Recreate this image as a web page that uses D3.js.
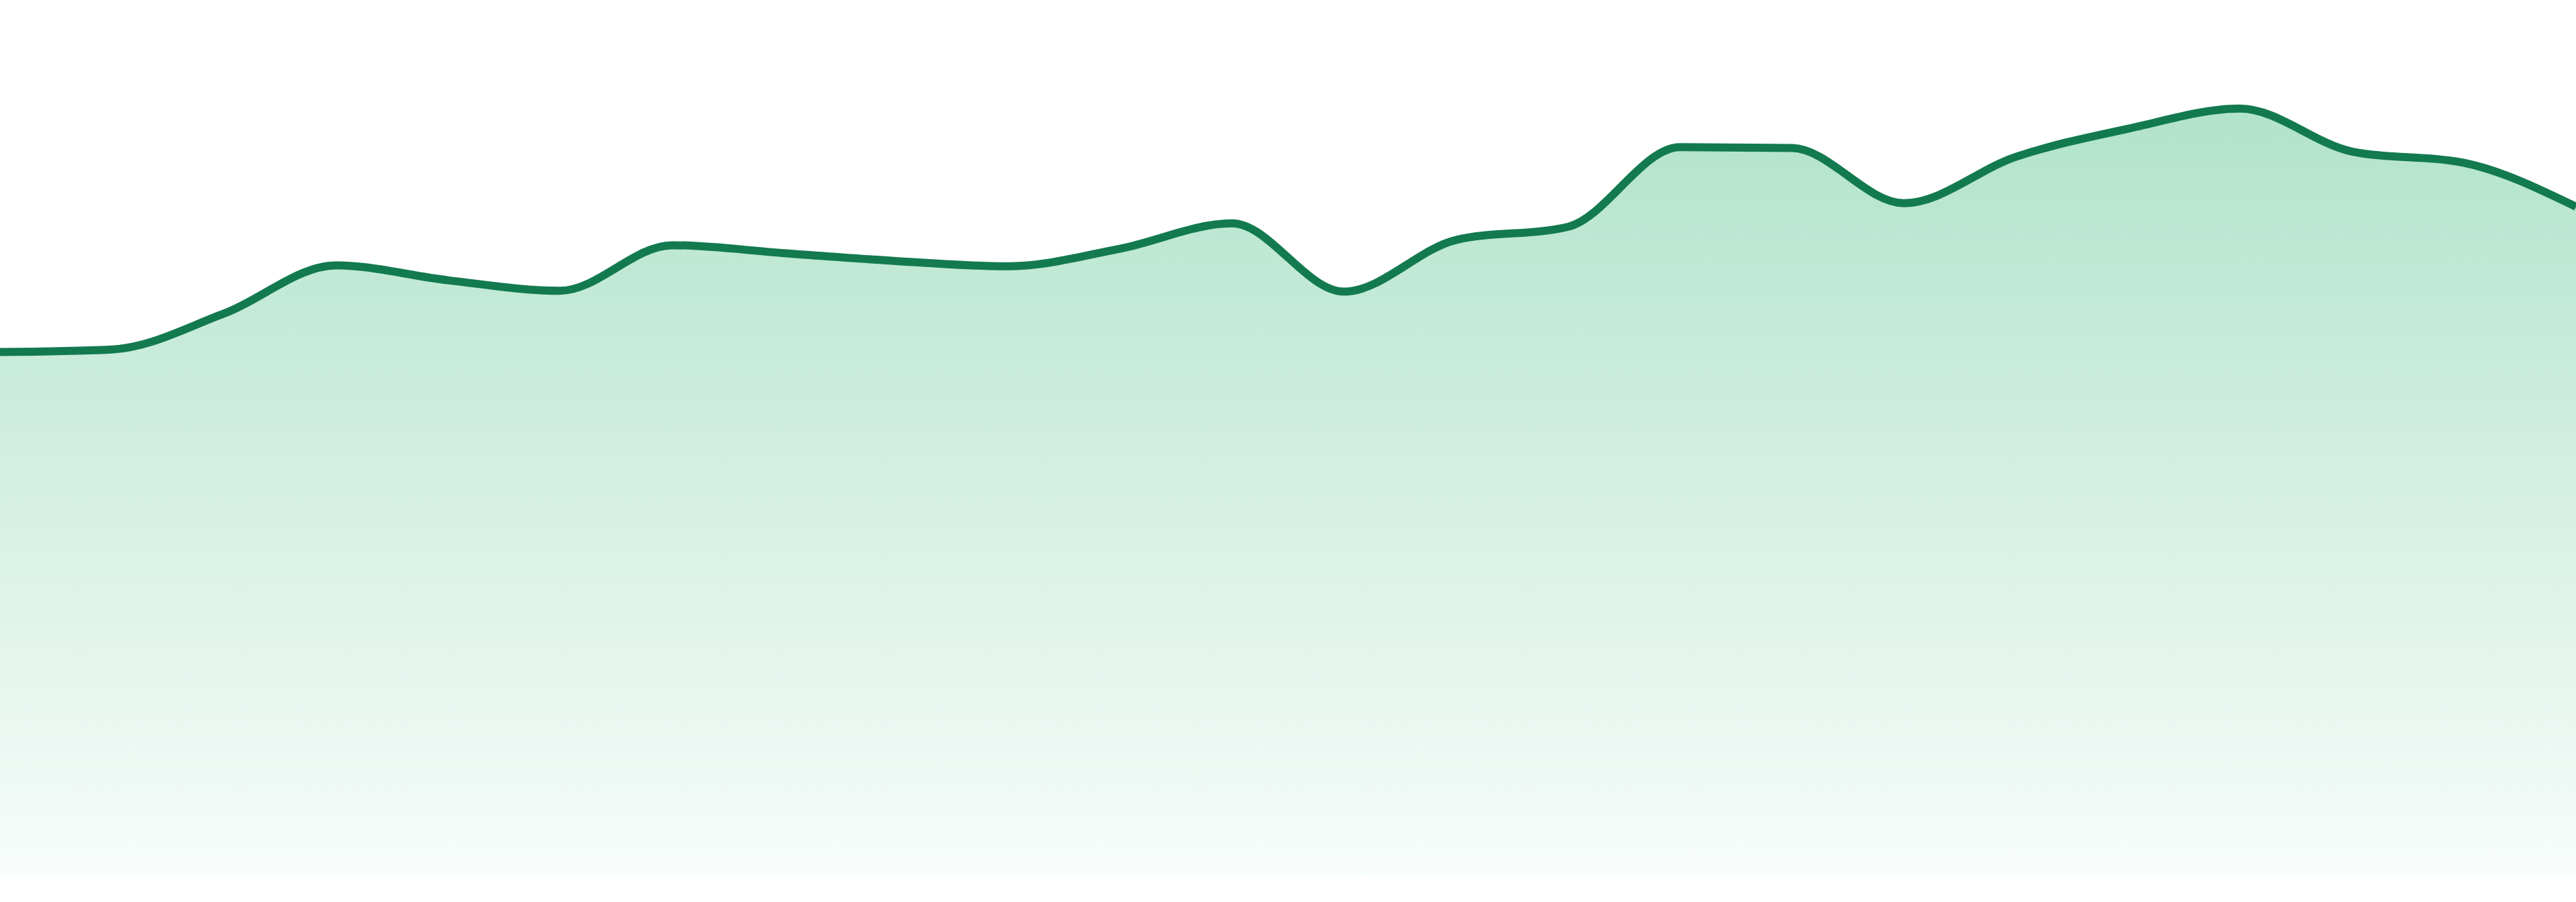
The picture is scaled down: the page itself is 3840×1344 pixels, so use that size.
<!DOCTYPE html>
<html>
<head>
<meta charset="utf-8">
<script src="https://cdn.jsdelivr.net/npm/d3@7"></script>
<style>
  html, body { margin: 0; padding: 0; background: #fff; overflow: hidden; }
  svg { display: block; width: 100vw; height: 100vh; }
</style>
</head>
<body>
<script>
const width = 3840;
const height = 1344;
const margin = { top: 0, right: 0, bottom: 39, left: 0 };

const chartWidth = width - margin.left - margin.right;
const chartHeight = height - margin.top - margin.bottom;

// 24 samples, no axes shown in the picture
const periods = ["P1", "P2", "P3", "P4", "P5", "P6", "P7", "P8", "P9", "P10", "P11", "P12",
  "P13", "P14", "P15", "P16", "P17", "P18", "P19", "P20", "P21", "P22", "P23", "P24"];
const values = [59.8, 60.1, 64.2, 69.7, 68.0, 66.8, 72.0, 71.1, 70.2, 69.6, 71.6, 74.5,
  66.7, 72.6, 74.1, 83.2, 83.1, 76.8, 82.1, 85.3, 87.6, 82.7, 81.4, 76.4];
const yDomain = [0, 100];

const data = periods.map((p, i) => ({ period: p, value: values[i] }));

const svg = d3.select("body")
  .append("svg")
  .attr("viewBox", `0 0 ${width} ${height}`)
  .attr("preserveAspectRatio", "none");

const g = svg.append("g")
  .attr("transform", `translate(${margin.left}, ${margin.top})`);

const x = d3.scalePoint().domain(periods).range([0, chartWidth]);
const y = d3.scaleLinear().domain(yDomain).range([chartHeight, 0]);

const grad = svg.append("defs")
  .append("linearGradient")
  .attr("id", "fade")
  .attr("gradientUnits", "userSpaceOnUse")
  .attr("x1", 0).attr("x2", 0)
  .attr("y1", y(d3.max(values))).attr("y2", chartHeight);

grad.append("stop").attr("offset", "0%")
  .attr("stop-color", "#14aa64").attr("stop-opacity", 0.33);
grad.append("stop").attr("offset", "100%")
  .attr("stop-color", "#14aa64").attr("stop-opacity", 0.03);

const area = d3.area()
  .x(d => x(d.period))
  .y0(chartHeight)
  .y1(d => y(d.value))
  .curve(d3.curveMonotoneX);

const line = d3.line()
  .x(d => x(d.period))
  .y(d => y(d.value))
  .curve(d3.curveMonotoneX);

g.append("path")
  .datum(data)
  .attr("fill", "url(#fade)")
  .attr("d", area);

g.append("path")
  .datum(data)
  .attr("fill", "none")
  .attr("stroke", "#137a50")
  .attr("stroke-width", 12)
  .attr("d", line);
</script>
</body>
</html>
